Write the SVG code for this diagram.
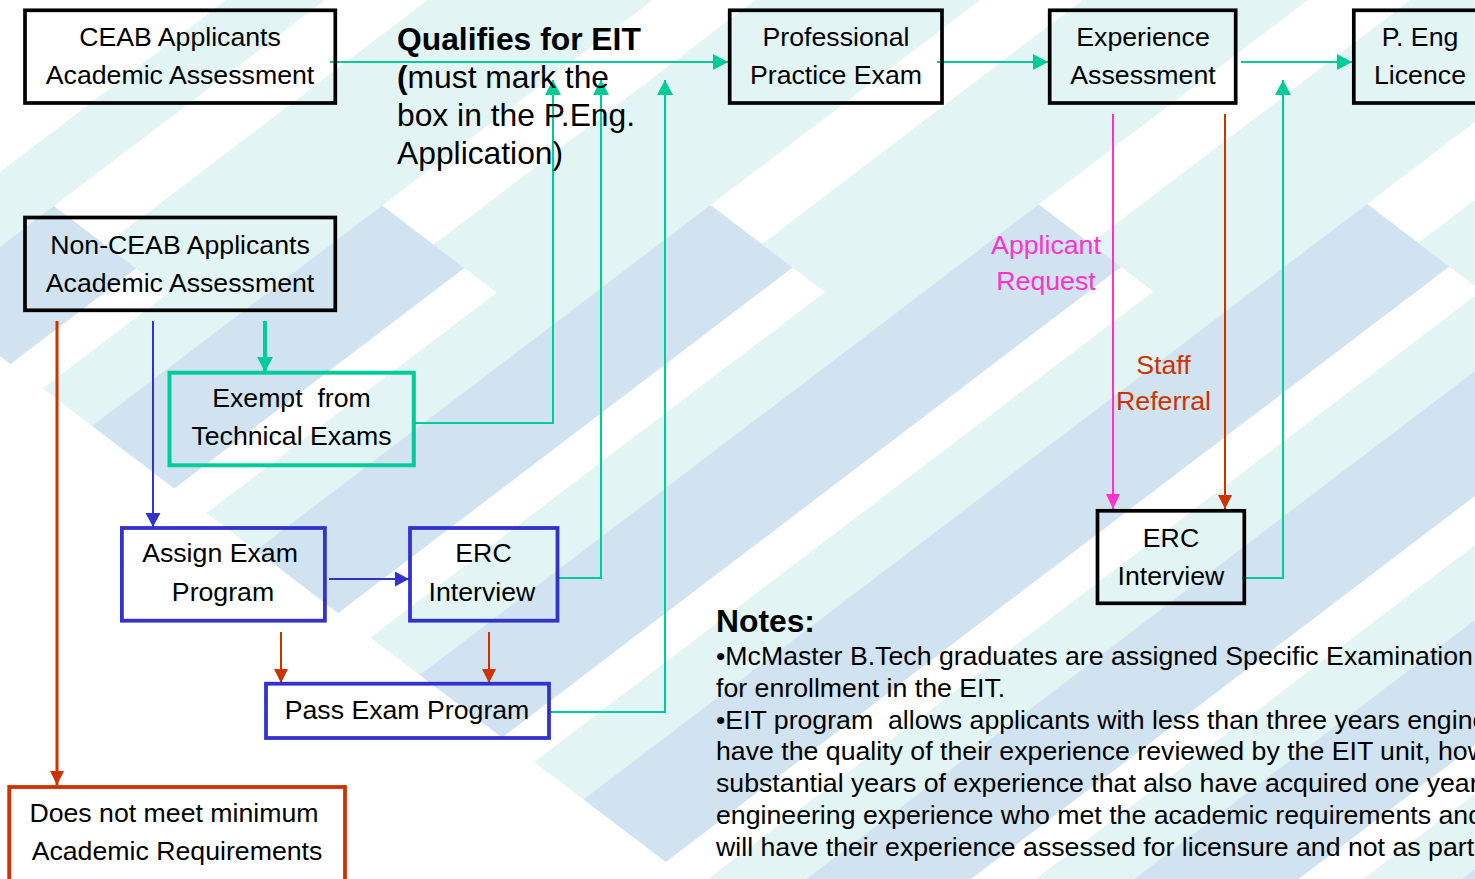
<svg xmlns="http://www.w3.org/2000/svg" width="1475" height="879" viewBox="0 0 1475 879">
<defs>
<style>
.bl{fill:#d1e3f0}
.cy{fill:#e2f4f4}
.box{fill:none}
.t{font-family:"Liberation Sans",Arial,sans-serif;font-size:26.7px;fill:#000;text-anchor:middle}
.n{font-family:"Liberation Sans",Arial,sans-serif;font-size:26.7px;fill:#000}
.q{font-family:"Liberation Sans",Arial,sans-serif;font-size:31.8px;fill:#000}
.c{fill:none;stroke-width:2}
.g{stroke:#00cc99}
.b{stroke:#3333cc}
.r{stroke:#cc3300}
.m{stroke:#ff33cc}
</style>
<marker id="ag" markerUnits="userSpaceOnUse" markerWidth="16" markerHeight="16" refX="15" refY="8" orient="auto"><path d="M0,0 L15,8 L0,16 z" fill="#00cc99"/></marker>
<marker id="ab" markerUnits="userSpaceOnUse" markerWidth="16" markerHeight="16" refX="14" refY="8" orient="auto"><path d="M0,0.5 L14,8 L0,15.5 z" fill="#3333cc"/></marker>
<marker id="ar" markerUnits="userSpaceOnUse" markerWidth="16" markerHeight="16" refX="14" refY="8" orient="auto"><path d="M0,1 L14,8 L0,15 z" fill="#cc3300"/></marker>
<marker id="am" markerUnits="userSpaceOnUse" markerWidth="16" markerHeight="16" refX="15" refY="8" orient="auto"><path d="M0,1 L15,8 L0,15 z" fill="#ff33cc"/></marker>
</defs>
<rect width="1475" height="879" fill="#fff"/>
<g id="background" transform="matrix(0.65789 0.5 -0.65789 0.5 0 0)">
<!-- cyan bands above chevron tops -->
<rect class="cy" x="325" y="-3000" width="104" height="3165"/>
<rect class="cy" x="574" y="-3000" width="104" height="2915"/>
<rect class="cy" x="823" y="-3000" width="104" height="2665"/>
<rect class="cy" x="1072" y="-3000" width="104" height="2415"/>
<rect class="cy" x="1321" y="-3000" width="104" height="2165"/>
<!-- blue chevrons -->
<rect class="bl" x="245" y="165" width="127" height="191"/>
<rect class="bl" x="494" y="-85" width="127" height="441"/>
<rect class="bl" x="743" y="-335" width="127" height="691"/>
<rect class="bl" x="992" y="-585" width="127" height="941"/>
<rect class="bl" x="1241" y="-835" width="127" height="1191"/>
<rect class="bl" x="1490" y="-1085" width="127" height="1441"/>
<rect class="bl" x="1739" y="-1335" width="127" height="1691"/>
<rect class="bl" x="1988" y="-1585" width="127" height="1941"/>
<!-- cyan stripes beside chevrons -->
<rect class="cy" x="172" y="-3000" width="75" height="3356"/>
<rect class="cy" x="421" y="-3000" width="75" height="3356"/>
<rect class="cy" x="670" y="-3000" width="75" height="3356"/>
<rect class="cy" x="919" y="-3000" width="75" height="3356"/>
<rect class="cy" x="1168" y="-3000" width="75" height="3356"/>
<rect class="cy" x="1417" y="-3000" width="75" height="3356"/>
<rect class="cy" x="1666" y="-3000" width="75" height="3356"/>
<rect class="cy" x="1915" y="-3000" width="75" height="3356"/>
</g>
<g id="connectors">
<path class="c g" d="M330,62 H728" marker-end="url(#ag)"/>
<path class="c g" d="M937,62 H1048" marker-end="url(#ag)"/>
<path class="c g" d="M1241,62 H1352" marker-end="url(#ag)"/>
<path class="c g" d="M414,423 H553 V80" marker-end="url(#ag)"/>
<path class="c g" d="M557,578 H601 V80" marker-end="url(#ag)"/>
<path class="c g" d="M550,712 H665 V80" marker-end="url(#ag)"/>
<path class="c g" d="M1242,578 H1283 V80" marker-end="url(#ag)"/>
<path class="c m" d="M1113,114 V509" marker-end="url(#am)"/>
<path class="c r" d="M1225,114 V509" marker-end="url(#ar)"/>
<path class="c r" style="stroke-width:3" d="M57,321 V785" marker-end="url(#ar)"/>
<path class="c b" d="M153,321 V527" marker-end="url(#ab)"/>
<path class="c g" style="stroke-width:4" d="M265,321 V372" marker-end="url(#ag)"/>
<path class="c b" d="M329,579 H409" marker-end="url(#ab)"/>
<path class="c r" d="M281,632 V683" marker-end="url(#ar)"/>
<path class="c r" d="M489,632 V683" marker-end="url(#ar)"/>
</g>
<g id="ceab">
<rect class="box" x="25" y="10.3" width="310.3" height="92.7" stroke="#000" stroke-width="3.7"/>
<text class="t" x="180" y="45.5">CEAB Applicants</text>
<text class="t" x="180" y="83.5">Academic Assessment</text>
</g>
<g id="qualifies">
<text class="q" x="397" y="50" font-weight="bold">Qualifies for EIT</text>
<text class="q" x="397" y="88"><tspan font-weight="bold">(</tspan>must mark the</text>
<text class="q" x="397" y="126">box in the P.Eng.</text>
<text class="q" x="397" y="164">Application)</text>
</g>
<g id="ppe">
<rect class="box" x="729.7" y="10.3" width="212.3" height="92.7" stroke="#000" stroke-width="3.7"/>
<text class="t" x="836" y="45.5">Professional</text>
<text class="t" x="836" y="83.5">Practice Exam</text>
</g>
<g id="experience">
<rect class="box" x="1049.7" y="10.3" width="186" height="92.7" stroke="#000" stroke-width="3.7"/>
<text class="t" x="1143" y="45.5">Experience</text>
<text class="t" x="1143" y="83.5">Assessment</text>
</g>
<g id="peng">
<rect class="box" x="1353.8" y="10.3" width="133" height="92.7" stroke="#000" stroke-width="3.7"/>
<text class="t" x="1420" y="45.5">P. Eng</text>
<text class="t" x="1420" y="83.5">Licence</text>
</g>
<g id="nonceab">
<rect class="box" x="25" y="217.5" width="310.3" height="92.8" stroke="#000" stroke-width="3.7"/>
<text class="t" x="180" y="253.5">Non-CEAB Applicants</text>
<text class="t" x="180" y="291.7">Academic Assessment</text>
</g>
<g id="exempt">
<rect class="box" x="169.5" y="372.7" width="244.3" height="92.6" stroke="#00cc99" stroke-width="4"/>
<text class="t" x="291.5" y="406.7" xml:space="preserve" style="white-space:pre">Exempt  from</text>
<text class="t" x="291.5" y="445">Technical Exams</text>
</g>
<g id="assign">
<rect class="box" x="121.9" y="528" width="203" height="92.7" stroke="#3333cc" stroke-width="3.8"/>
<text class="t" x="220" y="562">Assign Exam</text>
<text class="t" x="223" y="601">Program</text>
</g>
<g id="erc1">
<rect class="box" x="410" y="528" width="147.5" height="92.7" stroke="#3333cc" stroke-width="3.8"/>
<text class="t" x="483.5" y="562">ERC</text>
<text class="t" x="482" y="601">Interview</text>
</g>
<g id="pass">
<rect class="box" x="266" y="683.7" width="283" height="54.3" stroke="#3333cc" stroke-width="3.8"/>
<text class="t" x="407" y="718.5">Pass Exam Program</text>
</g>
<g id="notmeet">
<rect class="box" x="9.2" y="787" width="335.8" height="100" stroke="#cc3300" stroke-width="3.8"/>
<text class="t" x="174" y="822">Does not meet minimum</text>
<text class="t" x="177" y="860">Academic Requirements</text>
</g>
<g id="erc2">
<rect class="box" x="1097.5" y="510.8" width="146.8" height="92.5" stroke="#000" stroke-width="3.7"/>
<text class="t" x="1171" y="547">ERC</text>
<text class="t" x="1171" y="585">Interview</text>
</g>
<g id="labels">
<text class="t" x="1046" y="253.5" style="fill:#ff33cc">Applicant</text>
<text class="t" x="1046" y="290" style="fill:#ff33cc">Request</text>
<text class="t" x="1163.5" y="373.5" style="fill:#cc3300">Staff</text>
<text class="t" x="1163.5" y="410" style="fill:#cc3300">Referral</text>
</g>
<g id="notes">
<text class="q" x="716" y="632" font-weight="bold">Notes:</text>
<text class="n" x="716" y="665">•McMaster B.Tech graduates are assigned Specific Examination</text>
<text class="n" x="716" y="696.8">for enrollment in the EIT.</text>
<text class="n" x="716" y="728.5" xml:space="preserve" style="white-space:pre">•EIT program  allows applicants with less than three years engine</text>
<text class="n" x="716" y="760.3">have the quality of their experience reviewed by the EIT unit, how</text>
<text class="n" x="716" y="792">substantial years of experience that also have acquired one year</text>
<text class="n" x="716" y="823.8">engineering experience who met the academic requirements and</text>
<text class="n" x="716" y="855.5">will have their experience assessed for licensure and not as part</text>
</g>
</svg>
